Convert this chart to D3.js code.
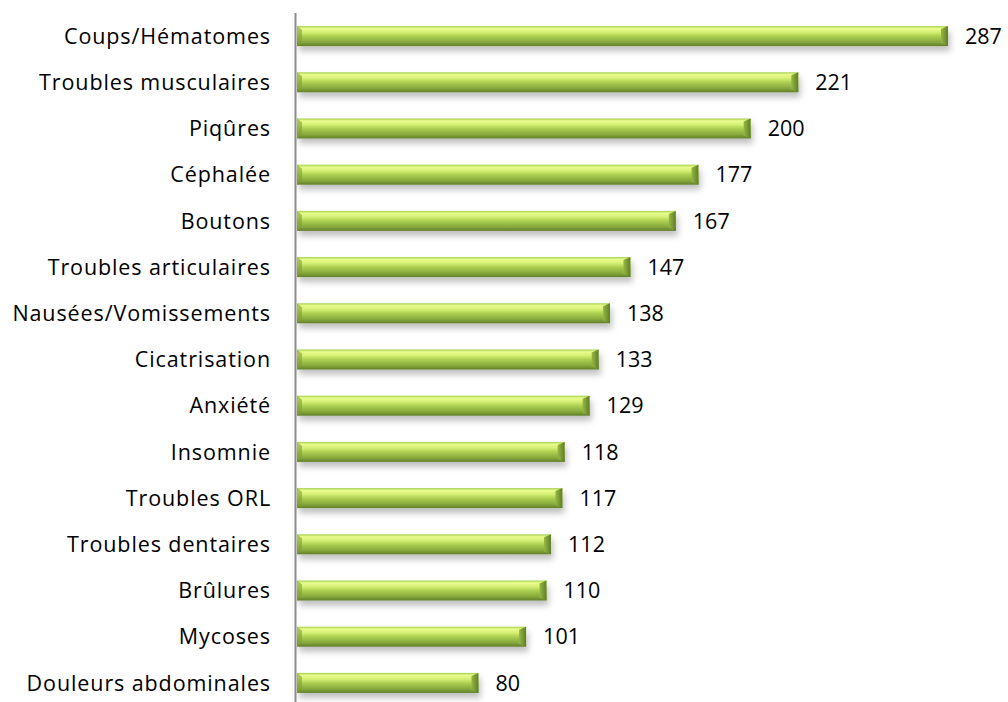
<!DOCTYPE html>
<html><head><meta charset="utf-8">
<script src="https://cdn.jsdelivr.net/npm/d3@7"></script>
<style>body{margin:0;background:#fff}svg{display:block}</style>
</head><body>
<script>
const categories = ["Coups/Hématomes","Troubles musculaires","Piqûres","Céphalée","Boutons","Troubles articulaires","Nausées/Vomissements","Cicatrisation","Anxiété","Insomnie","Troubles ORL","Troubles dentaires","Brûlures","Mycoses","Douleurs abdominales"];
const values = [287,221,200,177,167,147,138,133,129,118,117,112,110,101,80];

const W = 1008, H = 702;
const svg = d3.select("body").append("svg").attr("width", W).attr("height", H);
const defs = svg.append("defs");
const g1 = defs.append("linearGradient").attr("id","barg").attr("x1",0).attr("y1",0).attr("x2",0).attr("y2",1);
[[0,"#a3d04a"],[0.12,"#e9fc8e"],[0.3,"#d5f075"],[0.5,"#add052"],[0.8,"#87a83c"],[1,"#61802a"]].forEach(([o,c])=>g1.append("stop").attr("offset",o).attr("stop-color",c));
const g2 = defs.append("linearGradient").attr("id","rightg").attr("x1",0).attr("y1",0).attr("x2",1).attr("y2",0);
[[0,"#96b845"],[1,"#5f7d26"]].forEach(([o,c])=>g2.append("stop").attr("offset",o).attr("stop-color",c));
const f = defs.append("filter").attr("id","sh").attr("x","-5%").attr("y","-50%").attr("width","110%").attr("height","250%");
f.append("feDropShadow").attr("dx",2).attr("dy",5).attr("stdDeviation",3).attr("flood-color","#000").attr("flood-opacity",0.25);

const x0 = 297;
const x = d3.scaleLinear().domain([0, 287]).range([x0, 948]);
const y = d3.scaleBand().domain(categories).range([13, 706]).paddingInner(0.567).paddingOuter(0.283);

const bars = svg.append("g").selectAll("g").data(categories).join("g");
bars.each(function(c,i){
  const gg = d3.select(this);
  const yy = y(c), h = y.bandwidth(), xe = x(values[i]);
  gg.append("rect").attr("x", x0).attr("y", yy).attr("width", xe - x0).attr("height", h)
    .attr("fill","url(#barg)").attr("filter","url(#sh)");
  gg.append("path").attr("d", `M${xe-7},${yy+3}L${xe},${yy}L${xe},${yy+h}L${xe-7},${yy+h-3}Z`).attr("fill","url(#rightg)");
  gg.append("path").attr("d", `M${x0},${yy}L${x0+5},${yy+4}L${x0+5},${yy+h-4}L${x0},${yy+h}Z`).attr("fill","#7f9f34").attr("opacity",0.6);
});

svg.append("line").attr("x1",295.5).attr("x2",295.5).attr("y1",13).attr("y2",706).attr("stroke","#8c8c8c").attr("stroke-width",2);

const font = "'Open Sans', 'Liberation Sans', sans-serif";
svg.append("g").selectAll("text").data(categories).join("text")
  .attr("x", 271).attr("y", d => y(d) + y.bandwidth()/2 + 2)
  .attr("text-anchor","end").attr("dominant-baseline","middle")
  .attr("font-family", font).attr("font-size", 21.5).attr("letter-spacing", 0.9).attr("fill","#000")
  .text(d => d);

svg.append("g").selectAll("text").data(categories).join("text")
  .attr("x", (d,i) => x(values[i]) + 17).attr("y", d => y(d) + y.bandwidth()/2 + 2)
  .attr("dominant-baseline","middle")
  .attr("font-family", font).attr("font-size", 21.5).attr("fill","#000")
  .text((d,i) => values[i]);
</script>
</body></html>
